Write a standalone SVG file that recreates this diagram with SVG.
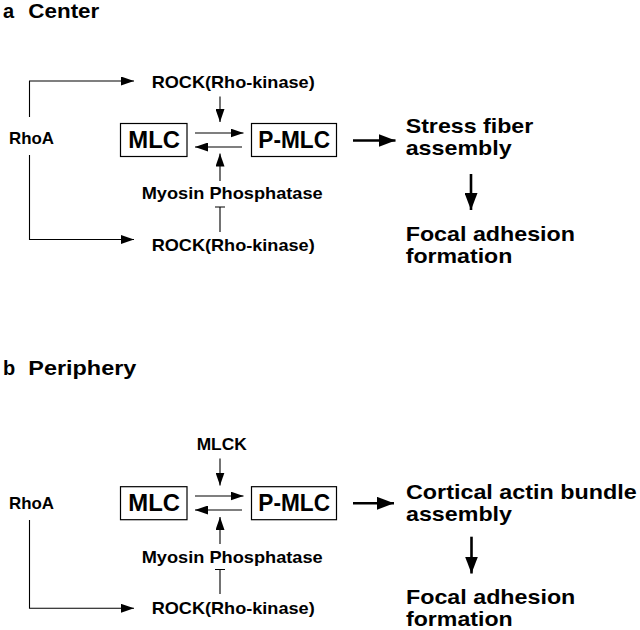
<svg xmlns="http://www.w3.org/2000/svg" width="640" height="630" viewBox="0 0 640 630">
<defs>
<style>
text{font-family:"Liberation Sans",Arial,sans-serif;font-weight:bold;fill:#000}
.t{font-size:20px}
.s{font-size:17px}
.m{font-size:23px}
.l{font-size:20.5px}
.box{fill:#fff;stroke:#000;stroke-width:1.2}
.c{fill:none;stroke:#000;stroke-width:1.1}
.cb{fill:none;stroke:#000;stroke-width:2.6}
</style>
<marker id="ah" markerUnits="userSpaceOnUse" markerWidth="13" markerHeight="9" refX="13" refY="4.5" orient="auto" viewBox="0 0 13 9"><path d="M0,0 L13,4.5 L0,9 z" fill="#000"/></marker>
<marker id="ahb" markerUnits="userSpaceOnUse" markerWidth="17" markerHeight="13" refX="17" refY="6.5" orient="auto" viewBox="0 0 17 13"><path d="M0,0 L17,6.5 L0,13 z" fill="#000"/></marker>
</defs>
<text class="t" x="3" y="17.5">a</text>
<text class="t" x="28.3" y="17.5" textLength="71" lengthAdjust="spacingAndGlyphs">Center</text>
<text class="t" x="3" y="375">b</text>
<text class="t" x="28.3" y="375" textLength="108" lengthAdjust="spacingAndGlyphs">Periphery</text>
<g id="a-rhoa"><text class="s" x="9" y="143.5" textLength="45" lengthAdjust="spacingAndGlyphs">RhoA</text></g>
<g id="a-rock1"><text class="s" x="151.7" y="87.5" textLength="163" lengthAdjust="spacingAndGlyphs">ROCK(Rho-kinase)</text></g>
<g id="a-mlc"><rect class="box" x="120.5" y="123.5" width="66.5" height="33"/><text class="m" x="128.3" y="147.5" textLength="51.7" lengthAdjust="spacingAndGlyphs">MLC</text></g>
<g id="a-pmlc"><rect class="box" x="251.5" y="123.5" width="85" height="33"/><text class="m" x="258.3" y="147.5" textLength="71.7" lengthAdjust="spacingAndGlyphs">P-MLC</text></g>
<g id="a-mp"><text class="s" x="141.7" y="198.5" textLength="181" lengthAdjust="spacingAndGlyphs">Myosin Phosphatase</text></g>
<g id="a-rock2"><text class="s" x="151.7" y="250.7" textLength="163" lengthAdjust="spacingAndGlyphs">ROCK(Rho-kinase)</text></g>
<g id="a-sf"><text class="l" x="405.7" y="133.3" textLength="127.6" lengthAdjust="spacingAndGlyphs">Stress fiber</text><text class="l" x="405.7" y="155.3" textLength="106" lengthAdjust="spacingAndGlyphs">assembly</text></g>
<g id="a-fa"><text class="l" x="405.7" y="240.7" textLength="169.3" lengthAdjust="spacingAndGlyphs">Focal adhesion</text><text class="l" x="405.7" y="263.3" textLength="106.7" lengthAdjust="spacingAndGlyphs">formation</text></g>
<g id="b-rhoa"><text class="s" x="9" y="509.3" textLength="45" lengthAdjust="spacingAndGlyphs">RhoA</text></g>
<g id="b-mlck"><text class="s" x="196.7" y="449.5" textLength="50" lengthAdjust="spacingAndGlyphs">MLCK</text></g>
<g id="b-mlc"><rect class="box" x="120.5" y="486.7" width="66.5" height="33"/><text class="m" x="128.3" y="510.7" textLength="51.7" lengthAdjust="spacingAndGlyphs">MLC</text></g>
<g id="b-pmlc"><rect class="box" x="251.5" y="486.7" width="85" height="33"/><text class="m" x="258.3" y="510.7" textLength="71.7" lengthAdjust="spacingAndGlyphs">P-MLC</text></g>
<g id="b-mp"><text class="s" x="141.7" y="563.3" textLength="181" lengthAdjust="spacingAndGlyphs">Myosin Phosphatase</text></g>
<g id="b-rock"><text class="s" x="151.7" y="613.5" textLength="163" lengthAdjust="spacingAndGlyphs">ROCK(Rho-kinase)</text></g>
<g id="b-cab"><text class="l" x="406" y="499.3" textLength="230.7" lengthAdjust="spacingAndGlyphs">Cortical actin bundle</text><text class="l" x="406" y="521.3" textLength="106" lengthAdjust="spacingAndGlyphs">assembly</text></g>
<g id="b-fa"><text class="l" x="406" y="604" textLength="169.3" lengthAdjust="spacingAndGlyphs">Focal adhesion</text><text class="l" x="406" y="626.3" textLength="106.7" lengthAdjust="spacingAndGlyphs">formation</text></g>
<g id="connectors">
<path class="c" d="M29.5,117 V81 H134" marker-end="url(#ah)"/>
<path class="c" d="M29.5,155 V239.5 H134" marker-end="url(#ah)"/>
<path class="c" d="M220,96.5 V122" marker-end="url(#ah)"/>
<path class="c" d="M195,133 H243.5" marker-end="url(#ah)"/>
<path class="c" d="M242,147 H195" marker-end="url(#ah)"/>
<path class="c" d="M220,181 V153.5" marker-end="url(#ah)"/>
<path class="c" d="M220,232 V207 M215,207 H225"/>
<path class="cb" d="M353,140.5 H395.5" marker-end="url(#ahb)"/>
<path class="cb" d="M471,174 V210" marker-end="url(#ahb)"/>
<path class="c" d="M29.5,520 V608.3 H134" marker-end="url(#ah)"/>
<path class="c" d="M220,458.5 V485.5" marker-end="url(#ah)"/>
<path class="c" d="M195,496 H243.5" marker-end="url(#ah)"/>
<path class="c" d="M242,510 H195" marker-end="url(#ah)"/>
<path class="c" d="M220,544 V517" marker-end="url(#ah)"/>
<path class="c" d="M220,594 V569.5 M215,569.5 H225"/>
<path class="cb" d="M353,503.3 H394" marker-end="url(#ahb)"/>
<path class="cb" d="M471.5,536.7 V573.5" marker-end="url(#ahb)"/>
</g>
</svg>
